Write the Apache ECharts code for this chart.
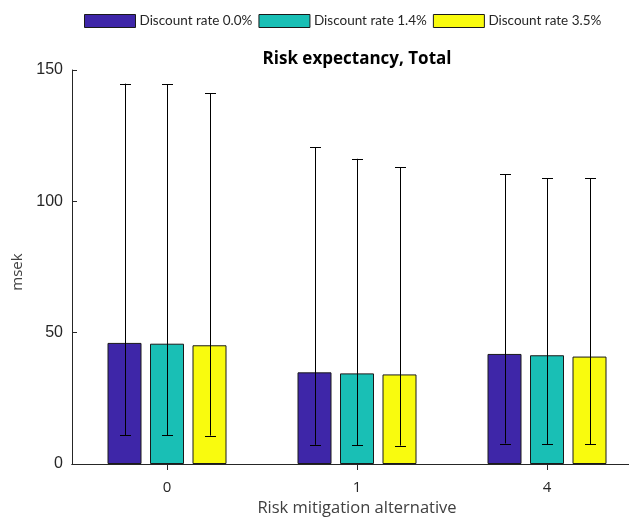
<!DOCTYPE html>
<html>
<head>
<meta charset="utf-8">
<script src="https://cdn.jsdelivr.net/npm/echarts@6/dist/echarts.min.js"></script>
<style>
html,body{margin:0;padding:0;background:#fff;}
#chart{width:629px;height:520px;}
</style>
</head>
<body>
<div id="chart"></div>
<script>
var categories = ['0', '1', '4'];
var seriesNames = ['Discount rate 0.0%', 'Discount rate 1.4%', 'Discount rate 3.5%'];
var mean00 = [46.1, 34.9, 41.9];
var mean14 = [45.8, 34.5, 41.4];
var mean35 = [45.2, 34.1, 40.9];
var low00 = [11.0, 7.3, 7.8];
var low14 = [11.0, 7.2, 7.6];
var low35 = [10.8, 7.0, 7.6];
var high00 = [144.8, 120.5, 110.3];
var high14 = [144.5, 116.2, 108.7];
var high35 = [141.1, 112.9, 108.7];
var yTicks = [0, 50, 100, 150];

var colors = ['#3e26a8', '#19bfb5', '#f9fb0e'];
var means = [mean00, mean14, mean35];
var lows = [low00, low14, low35];
var highs = [high00, high14, high35];

var BAR_W = 34, BAR_GAP = 0.25, CAP = 11;

var chart = echarts.init(document.getElementById('chart'), null, {renderer: 'canvas'});

var series = [];
seriesNames.forEach(function (name, k) {
  series.push({
    name: name,
    type: 'bar',
    barWidth: BAR_W,
    barGap: (BAR_GAP * 100) + '%',
    data: means[k],
    itemStyle: {color: colors[k], borderColor: '#1a1a1a', borderWidth: 1},
    emphasis: {disabled: true},
    z: 2
  });
});
seriesNames.forEach(function (name, k) {
  var data = categories.map(function (c, i) { return [i, lows[k][i], highs[k][i]]; });
  series.push({
    type: 'custom',
    name: name + ' err',
    data: data,
    z: 5,
    silent: true,
    renderItem: function (params, api) {
      var i = api.value(0);
      var off = (k - 1) * BAR_W * (1 + BAR_GAP);
      var pLo = api.coord([i, api.value(1)]);
      var pHi = api.coord([i, api.value(2)]);
      var x = Math.round(pLo[0] + off) + 0.5;
      var style = {stroke: '#000', lineWidth: 1};
      return {
        type: 'group',
        children: [
          {type: 'line', shape: {x1: x, y1: pLo[1], x2: x, y2: pHi[1]}, style: style},
          {type: 'line', shape: {x1: x - CAP / 2, y1: Math.round(pLo[1]) + 0.5, x2: x + CAP / 2, y2: Math.round(pLo[1]) + 0.5}, style: style},
          {type: 'line', shape: {x1: x - CAP / 2, y1: Math.round(pHi[1]) + 0.5, x2: x + CAP / 2, y2: Math.round(pHi[1]) + 0.5}, style: style}
        ]
      };
    }
  });
});

var axisColor = '#262626';
var option = {
  animation: false,
  backgroundColor: '#fff',
  title: {
    text: 'Risk expectancy, Total',
    left: 352,
    textAlign: 'center',
    top: 46,
    textStyle: {fontFamily: 'Open Sans', fontWeight: 'bold', fontSize: 17, color: '#000'}
  },
  legend: {
    data: seriesNames,
    left: 79,
    top: 9,
    itemWidth: 51,
    itemHeight: 13,
    itemGap: 6,
    icon: 'rect',
    textStyle: {fontFamily: 'Lato', fontSize: 13.5, color: '#262626', padding: [0, 0, 0, -1]},
    itemStyle: {borderColor: '#1a1a1a', borderWidth: 1}
  },
  grid: {left: 72, top: 70, width: 570, height: 394, containLabel: false, outerBoundsMode: 'none'},
  xAxis: [{
    type: 'category',
    data: categories,
    position: 'bottom',
    name: 'Risk mitigation alternative',
    nameLocation: 'middle',
    nameGap: 34,
    nameTextStyle: {fontFamily: 'Open Sans', fontSize: 16.5, color: '#404040'},
    axisLine: {show: true, lineStyle: {color: axisColor, width: 1}},
    axisTick: {show: true, inside: true, alignWithLabel: true, length: 6, lineStyle: {color: axisColor}},
    axisLabel: {fontFamily: 'Open Sans', fontSize: 15, color: '#262626', margin: 16},
    splitLine: {show: false}
  }, {
    type: 'category',
    data: categories,
    position: 'top',
    axisLine: {show: true, lineStyle: {color: axisColor, width: 1}},
    axisTick: {show: true, inside: true, alignWithLabel: true, length: 6, lineStyle: {color: axisColor}},
    axisLabel: {show: false},
    splitLine: {show: false}
  }],
  yAxis: [{
    type: 'value',
    min: yTicks[0],
    max: yTicks[yTicks.length - 1],
    interval: yTicks[1] - yTicks[0],
    position: 'left',
    name: 'msek',
    nameLocation: 'middle',
    nameGap: 43,
    nameTextStyle: {fontFamily: 'Open Sans', fontSize: 15, color: '#404040', padding: [0, 10, 0, 0]},
    axisLine: {show: true, lineStyle: {color: axisColor, width: 1}},
    axisTick: {show: true, inside: true, length: 5, lineStyle: {color: axisColor}},
    axisLabel: {fontFamily: 'Liberation Sans', fontSize: 16, color: '#262626', margin: 9},
    splitLine: {show: false}
  }, {
    type: 'value',
    min: yTicks[0],
    max: yTicks[yTicks.length - 1],
    interval: yTicks[1] - yTicks[0],
    position: 'right',
    axisLine: {show: true, lineStyle: {color: axisColor, width: 1}},
    axisTick: {show: true, inside: true, length: 5},
    axisLabel: {show: false},
    splitLine: {show: false}
  }],
  series: series
};
chart.setOption(option);
</script>
</body>
</html>
